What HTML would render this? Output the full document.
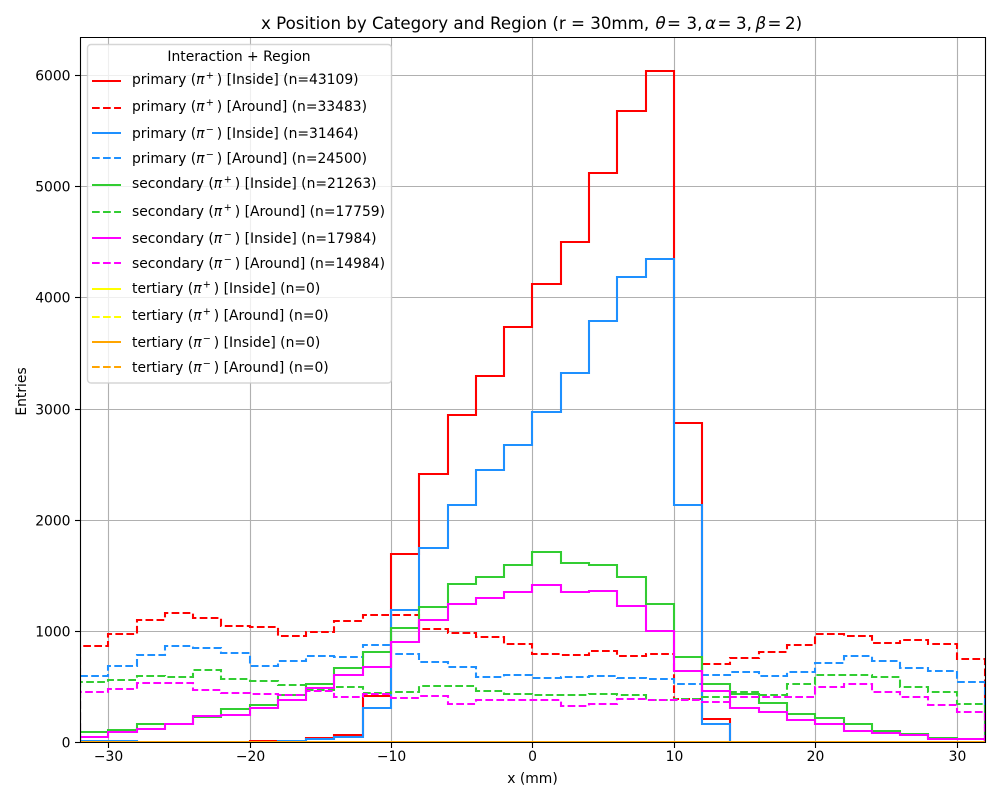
<!DOCTYPE html>
<html lang="en">
<head>
<meta charset="utf-8">
<title>x Position by Category and Region</title>
<style>
html,body{margin:0;padding:0;background:#fff;width:1000px;height:800px;overflow:hidden}
svg{display:block}
text{font-family:"DejaVu Sans","Liberation Sans",sans-serif;fill:#000;white-space:pre}
.leg text{font-size:13.89px;fill:#000}
</style>
</head>
<body>
<svg id="chart" width="1000" height="800" viewBox="0 0 1000 800" xmlns="http://www.w3.org/2000/svg">
  <defs><clipPath id="plot-clip"><rect x="80.2" y="37" width="904.8" height="705"/></clipPath></defs>
  <rect x="0" y="0" width="1000" height="800" fill="#fff"/>
  <text x="261" y="29" font-size="16.67">x Position by Category and Region (r = 30mm, <tspan x="655.5" font-style="italic">θ</tspan><tspan x="667">=</tspan><tspan x="686.5">3,</tspan><tspan x="705" font-style="italic">α</tspan><tspan x="717.5">=</tspan><tspan x="736">3,</tspan><tspan x="755.5" font-style="italic">β</tspan><tspan x="767.5">=</tspan><tspan x="785">2)</tspan></text>
  <g id="grid"></g>
  <g id="series" clip-path="url(#plot-clip)"></g>
  <g stroke="#000" stroke-width="1.11" fill="none">
    <line x1="80.5" y1="37" x2="80.5" y2="743"/>
    <line x1="985.5" y1="37" x2="985.5" y2="743"/>
    <line x1="80" y1="37.5" x2="986" y2="37.5"/>
    <line x1="80" y1="742.5" x2="986" y2="742.5"/>
  </g>
  <g id="ticks"></g>
  <text x="532.5" y="783" font-size="13.89" text-anchor="middle">x (mm)</text>
  <text transform="translate(26 391.5) rotate(-90)" font-size="13.89" text-anchor="middle">Entries</text>

  <g class="leg">
    <rect x="87.5" y="44.5" width="304" height="338.5" rx="3.5" fill="#fff" fill-opacity="0.8" stroke="#cccccc" stroke-opacity="0.8" stroke-width="1.39"/>
    <text x="239" y="61" text-anchor="middle">Interaction + Region</text>

    <g>
      <line x1="92" y1="81" x2="121" y2="81" stroke="#ff0000" stroke-width="2.08"/>
      <text x="132" y="84">primary (<tspan font-style="italic">π</tspan><tspan x="205.7" dy="-5.5" font-size="9.7">+</tspan><tspan x="216.8" dy="5.5">)</tspan> [Inside] (n=43109)</text>
    </g>
    <g>
      <line x1="92" y1="108" x2="121" y2="108" stroke="#ff0000" stroke-width="2.08" stroke-dasharray="7.7 3.33"/>
      <text x="132" y="111">primary (<tspan font-style="italic">π</tspan><tspan x="205.7" dy="-5.5" font-size="9.7">+</tspan><tspan x="216.8" dy="5.5">)</tspan> [Around] (n=33483)</text>
    </g>
    <g>
      <line x1="92" y1="133" x2="121" y2="133" stroke="#1e90ff" stroke-width="2.08"/>
      <text x="132" y="138">primary (<tspan font-style="italic">π</tspan><tspan x="205.7" dy="-5.5" font-size="9.7">−</tspan><tspan x="216.8" dy="5.5">)</tspan> [Inside] (n=31464)</text>
    </g>
    <g>
      <line x1="92" y1="158" x2="121" y2="158" stroke="#1e90ff" stroke-width="2.08" stroke-dasharray="7.7 3.33"/>
      <text x="132" y="163">primary (<tspan font-style="italic">π</tspan><tspan x="205.7" dy="-5.5" font-size="9.7">−</tspan><tspan x="216.8" dy="5.5">)</tspan> [Around] (n=24500)</text>
    </g>
    <g>
      <line x1="92" y1="185" x2="121" y2="185" stroke="#32cd32" stroke-width="2.08"/>
      <text x="132" y="188">secondary (<tspan font-style="italic">π</tspan><tspan x="223.7" dy="-5.5" font-size="9.7">+</tspan><tspan x="234.8" dy="5.5">)</tspan> [Inside] (n=21263)</text>
    </g>
    <g>
      <line x1="92" y1="212" x2="121" y2="212" stroke="#32cd32" stroke-width="2.08" stroke-dasharray="7.7 3.33"/>
      <text x="132" y="216">secondary (<tspan font-style="italic">π</tspan><tspan x="223.7" dy="-5.5" font-size="9.7">+</tspan><tspan x="234.8" dy="5.5">)</tspan> [Around] (n=17759)</text>
    </g>
    <g>
      <line x1="92" y1="238" x2="121" y2="238" stroke="#ff00ff" stroke-width="2.08"/>
      <text x="132" y="243">secondary (<tspan font-style="italic">π</tspan><tspan x="223.7" dy="-5.5" font-size="9.7">−</tspan><tspan x="234.8" dy="5.5">)</tspan> [Inside] (n=17984)</text>
    </g>
    <g>
      <line x1="92" y1="263" x2="121" y2="263" stroke="#ff00ff" stroke-width="2.08" stroke-dasharray="7.7 3.33"/>
      <text x="132" y="268">secondary (<tspan font-style="italic">π</tspan><tspan x="223.7" dy="-5.5" font-size="9.7">−</tspan><tspan x="234.8" dy="5.5">)</tspan> [Around] (n=14984)</text>
    </g>
    <g>
      <line x1="92" y1="289" x2="121" y2="289" stroke="#ffff00" stroke-width="2.08"/>
      <text x="132" y="293">tertiary (<tspan font-style="italic">π</tspan><tspan x="202.7" dy="-5.5" font-size="9.7">+</tspan><tspan x="213.8" dy="5.5">)</tspan> [Inside] (n=0)</text>
    </g>
    <g>
      <line x1="92" y1="317" x2="121" y2="317" stroke="#ffff00" stroke-width="2.08" stroke-dasharray="7.7 3.33"/>
      <text x="132" y="320">tertiary (<tspan font-style="italic">π</tspan><tspan x="202.7" dy="-5.5" font-size="9.7">+</tspan><tspan x="213.8" dy="5.5">)</tspan> [Around] (n=0)</text>
    </g>
    <g>
      <line x1="92" y1="342" x2="121" y2="342" stroke="#ffa500" stroke-width="2.08"/>
      <text x="132" y="347">tertiary (<tspan font-style="italic">π</tspan><tspan x="202.7" dy="-5.5" font-size="9.7">−</tspan><tspan x="213.8" dy="5.5">)</tspan> [Inside] (n=0)</text>
    </g>
    <g>
      <line x1="92" y1="367" x2="121" y2="367" stroke="#ffa500" stroke-width="2.08" stroke-dasharray="7.7 3.33"/>
      <text x="132" y="372">tertiary (<tspan font-style="italic">π</tspan><tspan x="202.7" dy="-5.5" font-size="9.7">−</tspan><tspan x="213.8" dy="5.5">)</tspan> [Around] (n=0)</text>
    </g>
  </g>
</svg>
<script>
// Histogram counts per 2 mm bin, from x = -32 mm to x = +32 mm.
const binStartMm = -32;
const binWidthMm = 2;
const primaryPlusInside   = [0,0,0,0,0,0,8,5,40,60,415,1690,2410,2940,3290,3730,4120,4500,5120,5680,6040,2870,205,0,0,0,0,0,0,0,0,0];
const primaryPlusAround   = [861,972,1095,1161,1116,1044,1035,954,987,1089,1143,1140,1017,981,942,882,789,780,819,771,792,385,700,756,810,870,972,951,888,918,879,744];
const primaryMinusInside  = [10,10,0,0,0,0,0,5,25,45,305,1185,1745,2130,2445,2670,2970,3320,3790,4185,4345,2130,165,0,0,0,0,0,0,0,0,0];
const primaryMinusAround  = [594,681,783,864,846,801,681,726,774,765,870,792,720,675,585,600,576,585,594,576,564,522,600,627,591,627,711,774,726,663,639,537];
const secondaryPlusInside = [90,105,160,160,225,295,330,420,525,665,805,1025,1210,1420,1485,1590,1710,1610,1590,1480,1240,765,520,435,350,255,215,160,100,72,36,24];
const secondaryPlusAround = [540,555,594,585,645,567,546,510,465,495,441,447,504,504,459,432,423,423,432,420,375,390,405,447,423,522,603,603,585,495,450,342];
const secondaryMinusInside= [45,90,115,162,232,243,305,378,485,600,675,900,1098,1240,1295,1350,1412,1350,1360,1220,1000,640,460,305,270,198,162,100,84,63,27,24];
const secondaryMinusAround= [450,474,531,531,468,441,435,423,459,405,429,393,414,339,375,375,375,324,339,384,375,375,357,405,405,405,495,522,447,402,333,267];
const tertiaryPlusInside  = [0,0,0,0,0,0,0,0,0,0,0,0,0,0,0,0,0,0,0,0,0,0,0,0,0,0,0,0,0,0,0,0];
const tertiaryPlusAround  = [0,0,0,0,0,0,0,0,0,0,0,0,0,0,0,0,0,0,0,0,0,0,0,0,0,0,0,0,0,0,0,0];
const tertiaryMinusInside = [0,0,0,0,0,0,0,0,0,0,0,0,0,0,0,0,0,0,0,0,0,0,0,0,0,0,0,0,0,0,0,0];
const tertiaryMinusAround = [0,0,0,0,0,0,0,0,0,0,0,0,0,0,0,0,0,0,0,0,0,0,0,0,0,0,0,0,0,0,0,0];
const xTickValues = [-30,-20,-10,0,10,20,30];
const yTickValues = [0,1000,2000,3000,4000,5000,6000];

const seriesList = [primaryPlusInside,primaryPlusAround,primaryMinusInside,primaryMinusAround,secondaryPlusInside,secondaryPlusAround,secondaryMinusInside,secondaryMinusAround,tertiaryPlusInside,tertiaryPlusAround,tertiaryMinusInside,tertiaryMinusAround];
const seriesNames = ['primary-pi-plus-inside','primary-pi-plus-around','primary-pi-minus-inside','primary-pi-minus-around','secondary-pi-plus-inside','secondary-pi-plus-around','secondary-pi-minus-inside','secondary-pi-minus-around','tertiary-pi-plus-inside','tertiary-pi-plus-around','tertiary-pi-minus-inside','tertiary-pi-minus-around'];
const seriesColors = ['#ff0000','#ff0000','#1e90ff','#1e90ff','#32cd32','#32cd32','#ff00ff','#ff00ff','#ffff00','#ffff00','#ffa500','#ffa500'];

const NS = 'http://www.w3.org/2000/svg';
const xScale = v => Math.round(532.45 + v * 14.14);
const yScale = v => Math.round(741.95 - v * 0.11115);
const formatTick = v => String(v).replace('-', '\u2212');

const gridGroup = document.getElementById('grid');
const tickGroup = document.getElementById('ticks');
const seriesGroup = document.getElementById('series');

function makeLine(parent, x1, y1, x2, y2, stroke, width) {
  const el = document.createElementNS(NS, 'line');
  el.setAttribute('x1', x1);
  el.setAttribute('y1', y1);
  el.setAttribute('x2', x2);
  el.setAttribute('y2', y2);
  el.setAttribute('stroke', stroke);
  el.setAttribute('stroke-width', width);
  parent.appendChild(el);
  return el;
}

function makeLabel(x, y, anchor, content) {
  const el = document.createElementNS(NS, 'text');
  el.setAttribute('x', x);
  el.setAttribute('y', y);
  el.setAttribute('text-anchor', anchor);
  el.setAttribute('font-size', '13.89');
  el.textContent = content;
  tickGroup.appendChild(el);
  return el;
}

xTickValues.forEach(v => {
  const px = xScale(v) + 0.5;
  const g = makeLine(gridGroup, px, 38, px, 742, '#b0b0b0', 1.11);
  
  
  const t = makeLine(tickGroup, px, 742, px, 748, '#000', 1.11);
  
  
  const l = makeLabel(px, 761, 'middle', formatTick(v));
  
  
});

yTickValues.forEach(v => {
  const py = yScale(v) + 0.5;
  const g = makeLine(gridGroup, 81, py, 985, py, '#b0b0b0', 1.11);
  
  
  const t = makeLine(tickGroup, 75, py, 81, py, '#000', 1.11);
  
  
  const l = makeLabel(70.5, py + 5, 'end', formatTick(v));
  
  
});

seriesList.forEach((counts, i) => {
  let d = 'M' + xScale(binStartMm) + ' ' + yScale(0);
  counts.forEach((count, b) => {
    const left = xScale(binStartMm + b * binWidthMm);
    const right = xScale(binStartMm + (b + 1) * binWidthMm);
    const top = yScale(count);
    d += 'L' + left + ' ' + top + 'L' + right + ' ' + top;
  });
  d += 'L' + xScale(binStartMm + counts.length * binWidthMm) + ' ' + yScale(0);
  const path = document.createElementNS(NS, 'path');
  path.setAttribute('d', d);
  path.setAttribute('fill', 'none');
  path.setAttribute('stroke', seriesColors[i]);
  path.setAttribute('stroke-width', '2.08');
  path.setAttribute('stroke-linejoin', 'miter');
  if (i % 2 === 1) {
    path.setAttribute('stroke-dasharray', '7.7 3.33');
  }
  
  
  seriesGroup.appendChild(path);
});
</script>
</body>
</html>
